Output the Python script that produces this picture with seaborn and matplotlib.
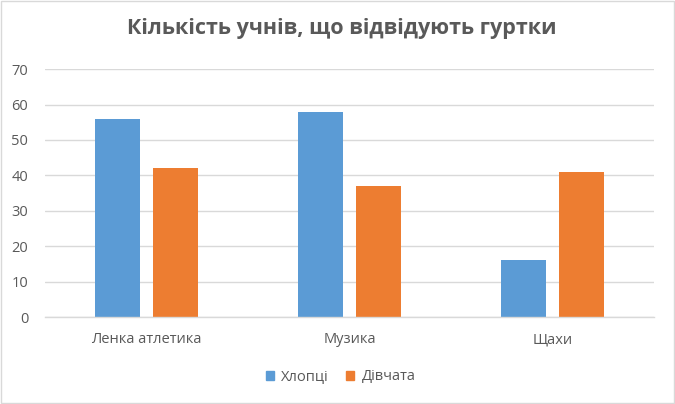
import matplotlib
matplotlib.use("Agg")
import matplotlib.pyplot as plt
import seaborn as sns
import pandas as pd
from matplotlib.patches import Rectangle

categories = ["Ленка атлетика", "Музика", "Щахи"]
boys = [56, 58, 16]
girls = [42, 37, 41]
series_names = ["Хлопці", "Дівчата"]
title = "Кількість учнів, що відвідують гуртки"
yticks = [0, 10, 20, 30, 40, 50, 60, 70]

df = pd.DataFrame({
    "cat": categories * 2,
    "val": boys + girls,
    "series": [series_names[0]] * 3 + [series_names[1]] * 3,
})

sns.set_theme(style="white")
plt.rcParams["font.family"] = ["Open Sans", "DejaVu Sans"]

fig = plt.figure(figsize=(6.75, 4.04), dpi=100)
ax = fig.add_axes([0.0667, 0.2153, 0.9023, 0.6137])

colors = ["#5B9BD5", "#ED7D31"]
sns.barplot(data=df, x="cat", y="val", hue="series", palette=colors,
            width=0.571, gap=0.224, ax=ax, legend=False, saturation=1,
            linewidth=0)

ax.set_ylim(0, 70)
ax.set_xlim(-0.5, 2.5)
ax.set_yticks(yticks)
ax.yaxis.grid(True, color="#D9D9D9", linewidth=1)
ax.set_axisbelow(True)
for s in ["top", "right", "left"]:
    ax.spines[s].set_visible(False)
ax.spines["bottom"].set_color("#D9D9D9")
ax.spines["bottom"].set_linewidth(1)
ax.set_xlabel("")
ax.set_ylabel("")
ax.tick_params(axis="both", length=0, colors="#595959", labelsize=10.5)
ax.tick_params(axis="y", pad=12)
ax.tick_params(axis="x", pad=11)
for lbl in ax.get_yticklabels():
    lbl.set_horizontalalignment("right")

fig.text(0.507, 0.93, title, ha="center", va="center", fontsize=15.5,
         fontweight="bold", color="#595959")

handles = [Rectangle((0, 0), 1, 1, color=c) for c in colors]
fig.legend(handles, series_names, loc="center", bbox_to_anchor=(0.505, 0.067),
           ncol=2, frameon=False, fontsize=10.5, handlelength=0.55, handleheight=0.55,
           handletextpad=0.5, columnspacing=1.2, labelcolor="#595959")

fig.patches.append(Rectangle((0.001, 0.002), 0.997, 0.995, transform=fig.transFigure,
                             fill=False, edgecolor="#D9D9D9", linewidth=1))

fig.savefig("out.png", dpi=100)
